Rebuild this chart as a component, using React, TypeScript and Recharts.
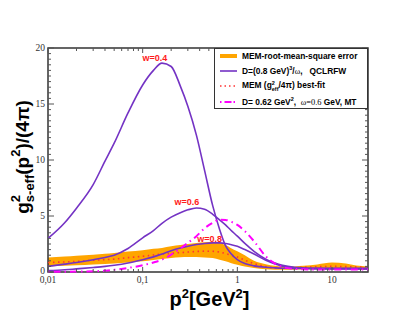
import React from 'react';
import { ComposedChart, Line, Area, XAxis, YAxis, ReferenceArea, ReferenceDot } from 'recharts';

// p^2 sample points (GeV^2)
const P2 = [0.01, 0.015, 0.02, 0.03, 0.04, 0.05, 0.07, 0.1, 0.13, 0.16, 0.2, 0.25, 0.3, 0.37, 0.45, 0.55, 0.65, 0.75, 0.85, 1.0, 1.2, 1.5, 2, 2.5, 3, 4, 5, 7, 10, 14, 18, 24];
// QCLRFW, w=0.4
const W04 = [3.0, 4.4, 5.7, 7.8, 9.9, 11.5, 14.2, 16.7, 18.0, 18.65, 18.35, 16.6, 14.8, 12.2, 9.1, 5.9, 3.8, 2.35, 1.68, 1.1, 0.75, 0.55, 0.42, 0.37, 0.34, 0.32, 0.31, 0.3, 0.3, 0.3, 0.3, 0.3];
// QCLRFW, w=0.6
const W06 = [0.5, 0.7, 0.85, 1.1, 1.3, 1.5, 2.1, 3.05, 3.7, 4.35, 4.9, 5.3, 5.55, 5.71, 5.6, 5.15, 4.65, 4.2, 3.75, 3.2, 2.55, 1.85, 1.15, 0.8, 0.6, 0.42, 0.36, 0.32, 0.3, 0.3, 0.3, 0.3];
// QCLRFW, w=0.8
const W08 = [0.12, 0.2, 0.28, 0.4, 0.5, 0.6, 0.8, 1.1, 1.35, 1.6, 1.9, 2.14, 2.3, 2.45, 2.55, 2.6, 2.6, 2.55, 2.45, 2.3, 2.0, 1.6, 1.05, 0.72, 0.52, 0.38, 0.33, 0.3, 0.3, 0.3, 0.3, 0.3];
// MT model
const MT = [0.03, 0.03, 0.04, 0.06, 0.12, 0.2, 0.36, 0.6, 0.85, 1.1, 1.55, 2.1, 2.6, 3.2, 3.9, 4.4, 4.67, 4.65, 4.5, 4.2, 3.65, 2.75, 1.4, 0.75, 0.45, 0.28, 0.24, 0.22, 0.22, 0.22, 0.22, 0.22];
// MEM best fit
const MEM = [0.85, 0.9, 0.95, 1.05, 1.1, 1.15, 1.28, 1.4, 1.52, 1.6, 1.67, 1.73, 1.78, 1.83, 1.86, 1.85, 1.78, 1.65, 1.52, 1.35, 1.05, 0.75, 0.48, 0.36, 0.34, 0.37, 0.42, 0.47, 0.5, 0.48, 0.45, 0.42];
// MEM rms error band
const BAND_LO = [0.5, 0.55, 0.6, 0.67, 0.72, 0.75, 0.85, 0.95, 1.08, 1.17, 1.25, 1.32, 1.35, 1.35, 1.3, 1.25, 1.1, 0.95, 0.8, 0.65, 0.5, 0.36, 0.25, 0.2, 0.2, 0.21, 0.23, 0.27, 0.33, 0.3, 0.25, 0.2];
const BAND_HI = [1.3, 1.38, 1.45, 1.55, 1.63, 1.7, 1.82, 1.95, 2.07, 2.15, 2.3, 2.4, 2.5, 2.6, 2.65, 2.7, 2.6, 2.4, 2.15, 1.85, 1.5, 1.0, 0.7, 0.55, 0.5, 0.5, 0.55, 0.68, 0.85, 0.75, 0.58, 0.5];

const X_MAJOR = [0.01, 0.1, 1, 10];
const X_MAJOR_LABELS = ['0,01', '0,1', '1', '10'];
const X_MINOR = [0.02, 0.03, 0.04, 0.05, 0.06, 0.07, 0.08, 0.09, 0.2, 0.3, 0.4, 0.5, 0.6, 0.7, 0.8, 0.9, 2, 3, 4, 5, 6, 7, 8, 9, 20];
const Y_MAJOR = [0, 5, 10, 15, 20];
const Y_MAJOR_LABELS = ['0', '5', '10', '15', '20'];

const CURVE_LABELS = ['w=0.4', 'w=0.6', 'w=0.8'];
const CURVE_LABEL_X = [0.135, 0.294, 0.511];
const CURVE_LABEL_Y = [18.8, 5.95, 2.64];

const data = P2.map((p, i) => ({
  p,
  w04: W04[i],
  w06: W06[i],
  w08: W08[i],
  mt: MT[i],
  mem: MEM[i],
  band: [BAND_LO[i], BAND_HI[i]],
}));

const X_TICKS = [...X_MAJOR, ...X_MINOR].sort((a, b) => a - b);
const Y_TICKS = Array.from({ length: 41 }, (_, i) => i * 0.5);

const W = 407, H = 313;
const M = { top: 40, right: 47, bottom: 19, left: 10 };
const YW = 30, XH = 30;
const PL = M.left + YW;
const PR = W - M.right;
const PT = M.top;
const PB = H - M.bottom - XH;

const PURPLE = '#7433c4';
const SERIF = '"Liberation Serif", "Times New Roman", serif';
const SANS = '"Liberation Sans", Arial, sans-serif';

const XTick = (props: any) => {
  const { x, payload } = props;
  const v = payload.value;
  const idx = X_MAJOR.findIndex((m) => Math.abs(m - v) < 1e-9);
  const len = idx >= 0 ? 5 : 3;
  return (
    <g>
      <line x1={x} x2={x} y1={PB} y2={PB - len} stroke="#555" strokeWidth={1} />
      <line x1={x} x2={x} y1={PT} y2={PT + len} stroke="#555" strokeWidth={1} />
      {idx >= 0 && (
        <text x={x} y={PB + 11} textAnchor="middle" fontFamily={SERIF} fontSize={9.5} fill="#333">
          {X_MAJOR_LABELS[idx]}
        </text>
      )}
    </g>
  );
};

const YTick = (props: any) => {
  const { y, payload } = props;
  const v = payload.value;
  const idx = Y_MAJOR.findIndex((m) => Math.abs(m - v) < 1e-9);
  const len = idx >= 0 ? 6 : 3;
  return (
    <g>
      <line x1={PL} x2={PL + len} y1={y} y2={y} stroke="#555" strokeWidth={1} />
      <line x1={PR} x2={PR - len} y1={y} y2={y} stroke="#555" strokeWidth={1} />
      {idx >= 0 && (
        <text x={PL - 3} y={y + (idx === 0 ? 2 : 3.3)} textAnchor="end" fontFamily={SERIF} fontSize={9.5} fill="#333">
          {Y_MAJOR_LABELS[idx]}
        </text>
      )}
    </g>
  );
};

const YTitle = () => {
  const cx = 20.5, cy = 149;
  return (
    <text
      x={cx}
      y={cy}
      transform={`rotate(-90 ${cx} ${cy})`}
      textAnchor="middle"
      fontFamily={SANS}
      fontWeight="bold"
      fontSize={19}
      fill="#000"
    >
      <tspan>g</tspan>
      <tspan fontSize={13} dy={-9}>2</tspan>
      <tspan fontSize={13} dx={-7.2} dy={14}>s-eff</tspan>
      <tspan fontSize={19} dy={-5}>(p</tspan>
      <tspan fontSize={13} dy={-9}>2</tspan>
      <tspan fontSize={19} dy={9}>)/(4π)</tspan>
    </text>
  );
};

const XTitle = () => (
  <text x={201.5} y={298} textAnchor="middle" fontFamily={SANS} fontWeight="bold" fontSize={20} fill="#000">
    <tspan>p</tspan>
    <tspan fontSize={13} dy={-8}>2</tspan>
    <tspan fontSize={20} dy={8}>[GeV</tspan>
    <tspan fontSize={13} dy={-8}>2</tspan>
    <tspan fontSize={20} dy={8}>]</tspan>
  </text>
);

const makeLabelShape = (txt: string) => (props: any) => (
  <text x={props.cx} y={props.cy} textAnchor="middle" fontFamily={SANS} fontWeight="bold" fontSize={9} fill="#ff1a1a">
    {txt}
  </text>
);

const Sample = ({ kind }: { kind: number }) => {
  const common = { x1: 1, x2: 18, y1: 4, y2: 4 };
  return (
    <svg width={19} height={8} style={{ display: 'block' }}>
      {kind === 0 && <line {...common} stroke="#FFA500" strokeWidth={4} />}
      {kind === 1 && <line {...common} stroke={PURPLE} strokeWidth={1.6} />}
      {kind === 2 && <line {...common} stroke="#ff3333" strokeWidth={1.5} strokeDasharray="1.5 3" />}
      {kind === 3 && <line {...common} stroke="#ff00ff" strokeWidth={2} strokeDasharray="1.5 3 7 2" />}
    </svg>
  );
};

const sup: React.CSSProperties = { fontSize: 5.5, verticalAlign: 'super', lineHeight: 0 };
const omega: React.CSSProperties = { fontFamily: SERIF, fontWeight: 'normal' };

const LegendBox = () => {
  const rows: [number, React.ReactNode][] = [
    [6.7, <span>MEM-root-mean-square error</span>],
    [21.7, <span>D=(0.8 GeV)<span style={sup}>3</span>/<span style={omega}>ω</span>,&nbsp;&nbsp;&nbsp;QCLRFW</span>],
    [36.5, (
      <span>
        MEM (g
        <span style={{ display: 'inline-flex', flexDirection: 'column', fontSize: 5.5, lineHeight: '6px', verticalAlign: 'middle' }}>
          <span>2</span>
          <span>eff</span>
        </span>
        /4π) best-fit
      </span>
    )],
    [53, <span>D= 0.62 GeV<span style={sup}>2</span>,&nbsp;&nbsp;<span style={omega}>ω=0.6</span> GeV, MT</span>],
  ];
  return (
    <div
      style={{
        position: 'absolute',
        left: PR - 154,
        top: PT,
        width: 154,
        height: 61,
        border: '1px solid #333',
        boxSizing: 'border-box',
        background: '#fff',
        fontFamily: SANS,
        fontWeight: 'bold',
        fontSize: 8.4,
        color: '#000',
      }}
    >
      {rows.map(([cy, content], i) => (
        <div
          key={i}
          style={{ position: 'absolute', left: 4, top: cy - 7, height: 14, display: 'flex', alignItems: 'center', whiteSpace: 'nowrap' }}
        >
          <Sample kind={i} />
          <span style={{ marginLeft: 4 }}>{content}</span>
        </div>
      ))}
    </div>
  );
};

export default function App() {
  return (
    <div style={{ position: 'relative', width: W, height: H }}>
      <ComposedChart width={W} height={H} data={data} margin={M}>
        <XAxis
          dataKey="p"
          type="number"
          scale="log"
          domain={[0.01, 24]}
          allowDataOverflow
          ticks={X_TICKS}
          interval={0}
          height={XH}
          axisLine={false}
          tickLine={false}
          tick={<XTick />}
          label={<XTitle />}
        />
        <YAxis
          type="number"
          domain={[0, 20]}
          ticks={Y_TICKS}
          interval={0}
          width={YW}
          axisLine={false}
          tickLine={false}
          tick={<YTick />}
          label={<YTitle />}
        />
        <Area dataKey="band" type="monotone" stroke="none" fill="#FFA500" fillOpacity={1} isAnimationActive={false} />
        <Line dataKey="mem" type="monotone" stroke="#ff3333" strokeWidth={1.6} strokeDasharray="1.5 3.5" dot={false} activeDot={false} isAnimationActive={false} />
        <Line dataKey="w04" type="monotone" stroke={PURPLE} strokeWidth={1.6} dot={false} activeDot={false} isAnimationActive={false} />
        <Line dataKey="w06" type="monotone" stroke={PURPLE} strokeWidth={1.6} dot={false} activeDot={false} isAnimationActive={false} />
        <Line dataKey="w08" type="monotone" stroke={PURPLE} strokeWidth={1.6} dot={false} activeDot={false} isAnimationActive={false} />
        <Line dataKey="mt" type="monotone" stroke="#ff00ff" strokeWidth={2} strokeDasharray="1.5 4 7 4" dot={false} activeDot={false} isAnimationActive={false} />
        <ReferenceArea x1={0.01} x2={24} y1={0} y2={20} fill="none" stroke="#333" strokeWidth={1.5} ifOverflow="visible" />
        {CURVE_LABELS.map((t, i) => (
          <ReferenceDot key={t} x={CURVE_LABEL_X[i]} y={CURVE_LABEL_Y[i]} r={1} shape={makeLabelShape(t)} />
        ))}
      </ComposedChart>
      <LegendBox />
    </div>
  );
}
